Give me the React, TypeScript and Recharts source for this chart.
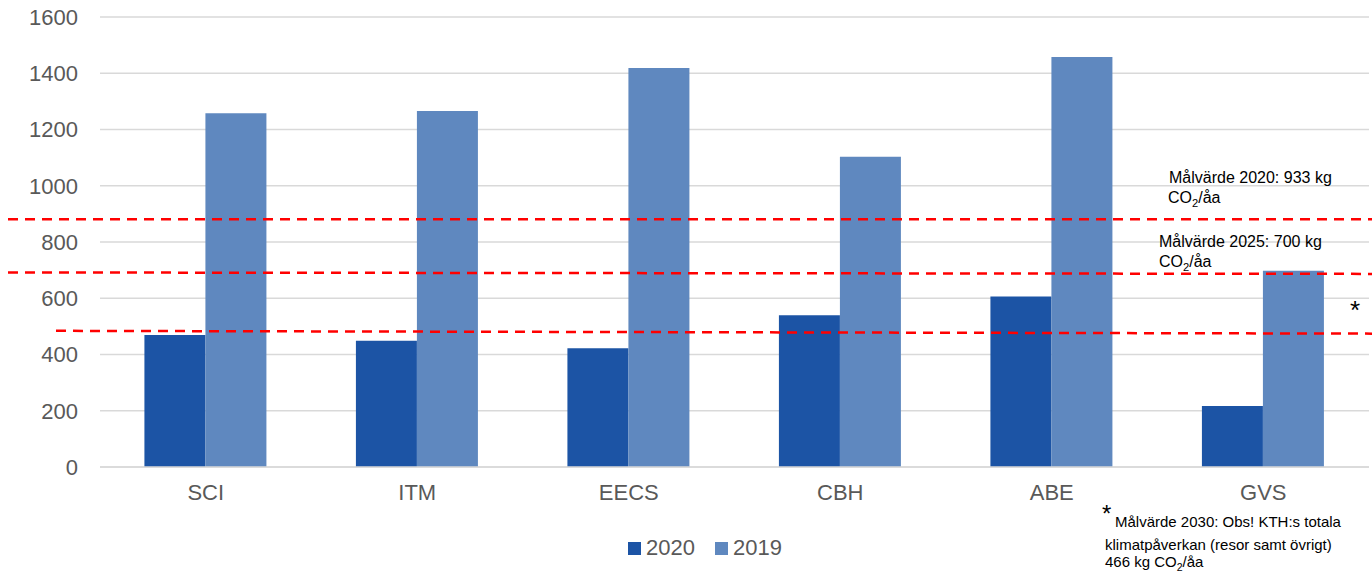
import React from 'react';
import {
  BarChart,
  Bar,
  XAxis,
  YAxis,
  CartesianGrid,
  ReferenceLine,
  Legend,
} from 'recharts';

// faculties and CO2 per employee (kg)
const faculties = ['SCI', 'ITM', 'EECS', 'CBH', 'ABE', 'GVS'];
const values2020 = [469, 449, 422, 540, 606, 217];
const values2019 = [1258, 1266, 1419, 1103, 1458, 698];
const yTicks = [0, 200, 400, 600, 800, 1000, 1200, 1400, 1600];
const seriesNames = ['2020', '2019'];
const seriesColors = ['#1c54a5', '#5f88bf'];

// dashed target lines, value read at SCI and at GVS (they are slightly slanted)
const targetAtFirst = [881, 691, 483];
const targetAtLast = [881, 687, 475];
const targetStartX = [8, 8, 56];

const FONT = '"Liberation Sans", Arial, sans-serif';
const W = 1372;
const H = 574;

const data = faculties.map((f, i) => ({
  faculty: f,
  v2020: values2020[i],
  v2019: values2019[i],
}));

const extendedLine = (startX: number) => (p: any) => {
  const { x1, y1, x2, y2 } = p;
  const k = x2 !== x1 ? (y2 - y1) / (x2 - x1) : 0;
  return (
    <line
      x1={startX}
      y1={y1 + k * (startX - x1)}
      x2={W}
      y2={y1 + k * (W - x1)}
      stroke="#ff0000"
      strokeWidth={2.5}
      strokeDasharray="10 7"
    />
  );
};

const LegendContent = () => (
  <div style={{ display: 'flex', alignItems: 'center', fontFamily: FONT, fontSize: 22, lineHeight: '22px', color: '#595959' }}>
    {seriesNames.map((name, i) => (
      <div key={name} style={{ display: 'flex', alignItems: 'center', marginRight: 20 }}>
        <span style={{ width: 13, height: 13, background: seriesColors[i], marginRight: 5, display: 'inline-block' }} />
        <span>{name}</span>
      </div>
    ))}
  </div>
);

const Co2 = ({ x, y, size, prefix }: { x: number; y: number; size: number; prefix?: string }) => (
  <text x={x} y={y} fontSize={size} fontFamily={FONT} fill="#000">
    <tspan>{(prefix || '') + 'CO'}</tspan>
    <tspan dy={4} fontSize={size * 0.7}>2</tspan>
    <tspan dy={-4}>/åa</tspan>
  </text>
);

const Notes = () => (
  <svg width={W} height={H} style={{ position: 'absolute', left: 0, top: 0, pointerEvents: 'none' }}>
    <text x={1169} y={183} fontSize={16} fontFamily={FONT} fill="#000">Målvärde 2020: 933 kg</text>
    <Co2 x={1168} y={203} size={16} />
    <text x={1159} y={247} fontSize={16} fontFamily={FONT} fill="#000">Målvärde 2025: 700 kg</text>
    <Co2 x={1159} y={267} size={16} />
    <text x={1350} y={319} fontSize={26} fontFamily={FONT} fill="#000">*</text>
    <text x={1102} y={522} fontSize={24} fontFamily={FONT} fill="#000">*</text>
    <text x={1115} y={527} fontSize={15} fontFamily={FONT} fill="#000">Målvärde 2030: Obs! KTH:s totala</text>
    <text x={1105} y={550} fontSize={15} fontFamily={FONT} fill="#000">klimatpåverkan (resor samt övrigt)</text>
    <Co2 x={1105} y={567} size={15} prefix="466 kg " />
  </svg>
);

export default function App() {
  return (
    <div style={{ position: 'absolute', left: 0, top: 0, width: W, height: H, fontFamily: FONT }}>
      <BarChart
        width={W}
        height={H}
        data={data}
        margin={{ top: 17, right: 3, left: 0, bottom: 77 }}
        barCategoryGap="21%"
        barGap={0}
      >
        <CartesianGrid vertical={false} stroke="#d9d9d9" strokeWidth={1.5} />
        <XAxis
          dataKey="faculty"
          height={30}
          interval={0}
          tickLine={false}
          tickSize={0}
          tickMargin={17}
          axisLine={{ stroke: '#d9d9d9', strokeWidth: 1.5 }}
          tick={{ fill: '#595959', fontSize: 22, fontFamily: FONT }}
        />
        <YAxis
          width={100}
          domain={[0, 1600]}
          ticks={yTicks}
          interval={0}
          axisLine={false}
          tickLine={false}
          tickSize={0}
          tickMargin={22}
          tick={{ fill: '#595959', fontSize: 22, fontFamily: FONT }}
        />
        <Legend
          layout="horizontal"
          verticalAlign="middle"
          align="center"
          content={<LegendContent />}
          wrapperStyle={{ left: 628, top: 537, width: 220, height: 22 }}
        />
        <Bar dataKey="v2020" name={seriesNames[0]} fill={seriesColors[0]} isAnimationActive={false} />
        <Bar dataKey="v2019" name={seriesNames[1]} fill={seriesColors[1]} isAnimationActive={false} />
        {targetAtFirst.map((v, i) => (
          <ReferenceLine
            key={i}
            segment={[
              { x: faculties[0], y: v },
              { x: faculties[faculties.length - 1], y: targetAtLast[i] },
            ]}
            ifOverflow="visible"
            shape={extendedLine(targetStartX[i])}
          />
        ))}
      </BarChart>
      <Notes />
    </div>
  );
}
